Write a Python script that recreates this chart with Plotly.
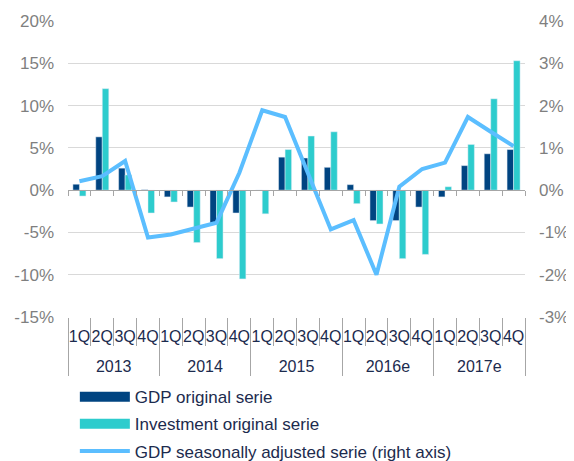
import plotly.graph_objects as go

years = ["2013"] * 4 + ["2014"] * 4 + ["2015"] * 4 + ["2016e"] * 4 + ["2017e"] * 4
quarters = ["1Q", "2Q", "3Q", "4Q"] * 5
gdp_original = [0.7, 6.3, 2.6, 0.05, -0.8, -2.0, -3.9, -2.7, 0.0, 3.9,
                3.8, 2.7, 0.65, -3.6, -3.6, -2.0, -0.8, 2.9, 4.3, 4.8]
investment_original = [-0.7, 12.0, 1.8, -2.7, -1.4, -6.2, -8.1, -10.5, -2.8, 4.8,
                       6.4, 6.9, -1.6, -4.0, -8.1, -7.6, 0.4, 5.4, 10.8, 15.3]
gdp_sa = [0.21, 0.33, 0.69, -1.12, -1.05, -0.91, -0.77, 0.41, 1.89, 1.73,
          0.4, -0.93, -0.71, -2.0, 0.08, 0.5, 0.65, 1.73, 1.38, 1.04]
left_ticks = [-15, -10, -5, 0, 5, 10, 15, 20]
right_ticks = [-3, -2, -1, 0, 1, 2, 3, 4]
legend_names = ["GDP original serie", "Investment original serie",
                "GDP seasonally adjusted serie (right axis)"]

NAVY = "#004481"
AQUA = "#2DCCCD"
LIGHT = "#5BBEFF"
TEXT = "#1C2B4E"
GRAY = "#7F7F7F"
AXIS = "#a6a6a6"
FONT = "Liberation Sans, Arial, sans-serif"

x = [years, quarters]
n = len(quarters)
boundaries = [i - 0.5 for i in range(n + 1)]
year_names = list(dict.fromkeys(years))
year_idx = [[i for i, y in enumerate(years) if y == yr] for yr in year_names]
year_centers = [sum(ix) / len(ix) for ix in year_idx]
year_bounds = [year_idx[0][0] - 0.5] + [ix[-1] + 0.5 for ix in year_idx]

fig = go.Figure()
fig.add_trace(go.Bar(x=x, y=gdp_original, marker_color=NAVY, showlegend=False,
                     legendgroup="g1", name=legend_names[0]))
fig.add_trace(go.Bar(x=x, y=investment_original, marker_color=AQUA, showlegend=False,
                     legendgroup="g2", name=legend_names[1]))
fig.add_trace(go.Scatter(x=x, y=gdp_sa, mode="lines", yaxis="y2",
                         line=dict(color=LIGHT, width=4), showlegend=False,
                         legendgroup="g3", name=legend_names[2]))
# empty traces so that the helper axes (zero line, labels) are drawn
for xa, ya in [("x2", "y"), ("x3", "y"), ("x4", "y")]:
    fig.add_trace(go.Scatter(x=list(range(n)), y=[None] * n, xaxis=xa, yaxis=ya,
                             mode="lines", showlegend=False, hoverinfo="skip"))
fig.add_trace(go.Scatter(x=x, y=[None] * n, xaxis="x", yaxis="y3",
                         mode="lines", showlegend=False, hoverinfo="skip"))
# legend entries (wide swatches)
for name, col, w, g in [(legend_names[0], NAVY, 10, "g1"),
                        (legend_names[1], AQUA, 10, "g2"),
                        (legend_names[2], LIGHT, 4, "g3")]:
    fig.add_trace(go.Scatter(x=[None], y=[None], mode="lines", name=name,
                             line=dict(color=col, width=w), legendgroup=g))

common_x = dict(overlaying="x", range=[-0.5, n - 0.5], showgrid=False,
                zeroline=False, automargin=False, tickangle=0)

fig.update_layout(
    width=566, height=453,
    margin=dict(l=60, r=49, t=13, b=144, autoexpand=False),
    paper_bgcolor="white", plot_bgcolor="white",
    font=dict(family=FONT, size=16, color=TEXT),
    barmode="group", bargap=0.43, bargroupgap=0,
    xaxis=dict(type="multicategory", visible=False, automargin=False),
    # axis line at zero with small boundary ticks
    xaxis2=dict(anchor="free", position=15 / 35, tickvals=boundaries,
                ticks="outside", ticklen=5, tickcolor=AXIS, showticklabels=False,
                showline=True, linecolor=AXIS, linewidth=1, **common_x),
    # quarter labels
    xaxis3=dict(anchor="y", side="bottom", tickvals=list(range(n)), ticktext=quarters,
                ticks="", tickfont=dict(size=16, color=TEXT), ticklabelstandoff=8,
                minor=dict(tickvals=boundaries, ticks="outside", ticklen=28,
                           tickcolor=AXIS, showgrid=False),
                showline=False, **common_x),
    # year labels
    xaxis4=dict(anchor="y", side="bottom", tickvals=year_centers, ticktext=year_names,
                ticks="", tickfont=dict(size=16, color=TEXT), ticklabelstandoff=38,
                minor=dict(tickvals=year_bounds, ticks="outside", ticklen=58,
                           tickcolor=AXIS, showgrid=False),
                showline=False, **common_x),
    yaxis=dict(range=[-15, 20], tickvals=left_ticks[1:], showticklabels=False,
               showgrid=True, gridcolor="#d9d9d9", zeroline=False, automargin=False,
               ticks=""),
    yaxis3=dict(range=[-15, 20], tickvals=left_ticks, overlaying="y", side="left",
                anchor="x", ticktext=[f"{v}%" for v in left_ticks], showgrid=False,
                zeroline=False, automargin=False, ticklabelstandoff=13,
                tickfont=dict(size=17, color=GRAY), ticks=""),
    yaxis2=dict(range=[-3, 4], tickvals=right_ticks,
                ticktext=[f"{v}%" for v in right_ticks], overlaying="y", side="right",
                showgrid=False, zeroline=False, automargin=False, ticklabelstandoff=13,
                tickfont=dict(size=17, color=GRAY)),
    legend=dict(x=0.015, y=-0.21, xanchor="left", yanchor="top", orientation="v",
                font=dict(size=17, color=TEXT), itemwidth=50, tracegroupgap=2,
                bgcolor="rgba(0,0,0,0)"),
)

fig.write_html("out.html")
